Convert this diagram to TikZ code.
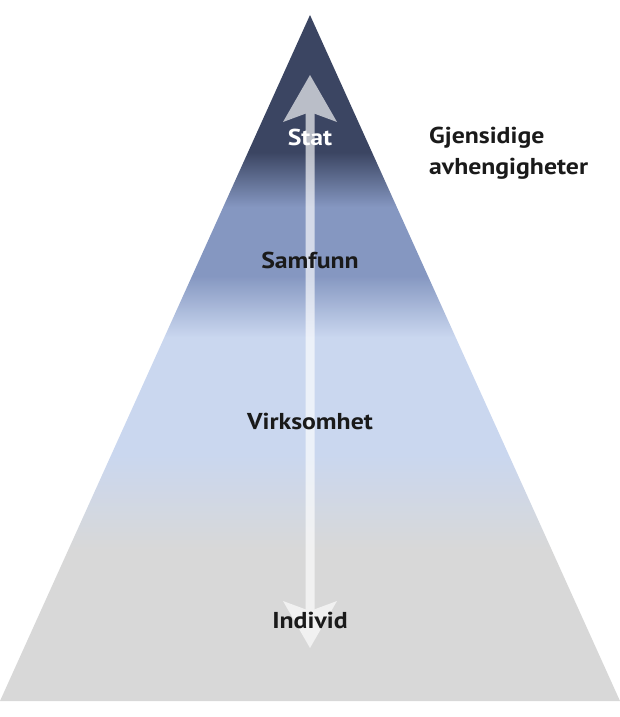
\documentclass[tikz,border=0pt]{standalone}
\usepackage{fontspec}
\setmainfont{PT Sans}[FakeStretch=1.12]
\usetikzlibrary{arrows.meta,positioning}
\definecolor{navy}{HTML}{3B4562}
\definecolor{midblue}{HTML}{8597C1}
\definecolor{lightblue}{HTML}{CAD7EF}
\definecolor{lightgrey}{HTML}{D8D8D8}
\definecolor{textdark}{HTML}{1A1A1A}
\pgfdeclareverticalshading{pyramid}{100bp}{color(0bp)=(lightgrey); color(36bp)=(lightgrey); color(43bp)=(lightblue); color(51.5bp)=(lightblue); color(56bp)=(midblue); color(61bp)=(midblue); color(65bp)=(navy); color(100bp)=(navy)}
\tikzset{
every node/.style={font=\bfseries\fontsize{23}{31}\selectfont, text=textdark, inner sep=0pt},
lvl/.style={anchor=base},
note/.style={align=left, anchor=base west},
biarrow/.style={line width=9pt, draw=white, <->, >={Stealth[length=47pt,width=54pt,inset=10pt,line width=0pt]}}
}

\begin{document}
\begin{tikzpicture}[x=1pt, y=-1pt]
\useasboundingbox (0,0) rectangle (620,717);
\coordinate (apex) at (310,15);
\coordinate (right) at (620,701);
\coordinate (left) at (0,701);
\shade[shading=pyramid] (apex) -- (right) -- (left) -- cycle;

\coordinate (top) at (310,75);
\coordinate (bottom) at (310,648);
\begin{scope}[transparency group, opacity=0.65]
\draw[biarrow] (bottom) -- (top);
\end{scope}

\node[lvl, text=white] (stat) at (310,145) {Stat};
\node[lvl] (samfunn) at (310,268) {Samfunn};
\node[lvl] (virksomhet) at (310,429) {Virksomhet};
\node[lvl] (individ) at (310,628) {Individ};
\node[note] (gjensidige) at (429,174) {Gjensidige\\avhengigheter};
\end{tikzpicture}
\end{document}
